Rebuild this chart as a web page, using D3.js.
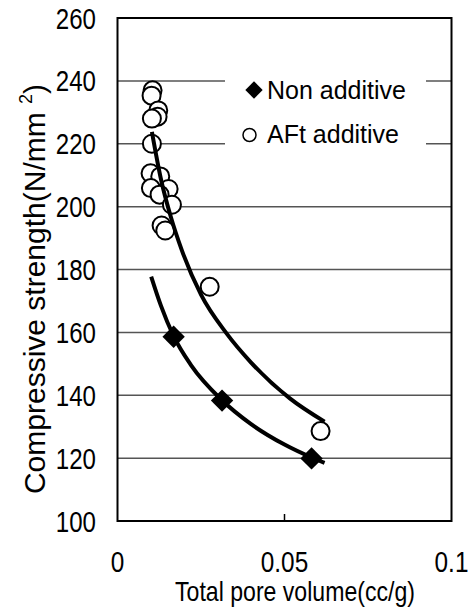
<!DOCTYPE html>
<html>
<head>
<meta charset="utf-8">
<script src="https://cdn.jsdelivr.net/npm/d3@7"></script>
<style>
  html, body { margin: 0; padding: 0; background: #fff; }
  svg { display: block; font-family: Arial, "Liberation Sans", sans-serif; }
</style>
</head>
<body>
<svg id="chart" width="473" height="615"></svg>
<script>
// ---- data ----
const xTickValues = [0, 0.05, 0.1];
const xTickLabels = ["0", "0.05", "0.1"];
const yTickValues = [100, 120, 140, 160, 180, 200, 220, 240, 260];

const seriesNames = ["Non additive", "AFt additive"];

const nonX = [0.0168, 0.0313, 0.0581];
const nonY = [158.6, 138.3, 119.9];

const aftX = [0.0105, 0.0102, 0.0122, 0.0120, 0.0103, 0.0103, 0.0099, 0.0128, 0.0100, 0.0153, 0.0126, 0.0163, 0.0132, 0.0143, 0.0276, 0.0608];
const aftY = [237.0, 235.3, 230.6, 228.6, 228.0, 220.0, 210.6, 209.6, 205.9, 205.6, 203.8, 200.6, 194.0, 192.4, 174.5, 128.6];

// trend lines
const nonFitX = [0.0101, 0.0130, 0.0168, 0.0220, 0.0313, 0.0400, 0.0500, 0.0581, 0.0620];
const nonFitY = [177.7, 168.5, 158.8, 149.6, 138.4, 130.8, 124.3, 120.2, 118.5];

const aftFitX = [0.0103, 0.0130, 0.0160, 0.0193, 0.0250, 0.0327, 0.0400, 0.0516, 0.0620];
const aftFitY = [223.8, 208.8, 196.6, 186.0, 172.0, 159.6, 150.4, 139.0, 131.6];

// ---- layout ----
const svg = d3.select("#chart");
const L = 117.5, R = 451.5, T = 18, B = 521;

const x = d3.scaleLinear().domain([0, 0.1]).range([L, R]);
const y = d3.scaleLinear().domain([100, 260]).range([B, T]);

// gridlines
svg.append("g").selectAll("line").data(yTickValues.filter(v => v > 100 && v < 260)).join("line")
  .attr("x1", L).attr("x2", R)
  .attr("y1", d => y(d)).attr("y2", d => y(d))
  .attr("stroke", "#555").attr("stroke-width", 1.5);

// legend background hides gridlines
svg.append("rect").attr("x", 225).attr("y", 60).attr("width", 201).attr("height", 105).attr("fill", "#fff");

// frame
svg.append("rect").attr("x", L).attr("y", T).attr("width", R - L).attr("height", B - T)
  .attr("fill", "none").attr("stroke", "#000").attr("stroke-width", 2);

// x ticks (inward)
svg.append("g").selectAll("line").data(xTickValues.slice(1, -1)).join("line")
  .attr("x1", d => x(d)).attr("x2", d => x(d)).attr("y1", B).attr("y2", B - 7)
  .attr("stroke", "#000").attr("stroke-width", 1.5);

// y tick labels
svg.append("g").selectAll("text").data(yTickValues).join("text")
  .attr("transform", d => `translate(96,${y(d) + 10.5}) scale(0.83,1)`)
  .attr("text-anchor", "end").attr("font-size", 29).attr("fill", "#000")
  .text(d => d);

// x tick labels
svg.append("g").selectAll("text").data(xTickValues).join("text")
  .attr("transform", d => `translate(${x(d)},572) scale(0.84,1)`)
  .attr("text-anchor", "middle").attr("font-size", 29).attr("fill", "#000")
  .text((d, i) => xTickLabels[i]);

// x axis title
svg.append("text").attr("x", 295).attr("y", 601).attr("text-anchor", "middle")
  .attr("font-size", 28).attr("textLength", 240).attr("lengthAdjust", "spacingAndGlyphs")
  .text("Total pore volume(cc/g)");

// y axis title
const yt = svg.append("text").attr("transform", "translate(45,289) rotate(-90)")
  .attr("text-anchor", "middle").attr("font-size", 30);
yt.append("tspan").text("Compressive strength(N/mm ");
yt.append("tspan").attr("font-size", 18).attr("dy", -13).text("2");
yt.append("tspan").attr("dy", 13).text(")");

// AFt circles
const aftData = aftX.map((v, i) => ({ x: v, y: aftY[i] }));
svg.append("g").selectAll("circle").data(aftData).join("circle")
  .attr("cx", d => x(d.x)).attr("cy", d => y(d.y)).attr("r", 9)
  .attr("fill", "#fff").attr("stroke", "#000").attr("stroke-width", 2);

// trend lines
const line = d3.line().x(d => x(d[0])).y(d => y(d[1])).curve(d3.curveMonotoneX);
svg.append("path").attr("d", line(aftFitX.map((v, i) => [v, aftFitY[i]])))
  .attr("fill", "none").attr("stroke", "#000").attr("stroke-width", 4);
svg.append("path").attr("d", line(nonFitX.map((v, i) => [v, nonFitY[i]])))
  .attr("fill", "none").attr("stroke", "#000").attr("stroke-width", 4);

// non additive diamonds
const nonData = nonX.map((v, i) => ({ x: v, y: nonY[i] }));
svg.append("g").selectAll("path").data(nonData).join("path")
  .attr("transform", d => `translate(${x(d.x)},${y(d.y)}) rotate(45)`)
  .attr("d", d3.symbol().type(d3.symbolSquare).size(250)())
  .attr("fill", "#000");

// legend
const lg = svg.append("g");
lg.append("path").attr("transform", "translate(254,90) rotate(45)")
  .attr("d", d3.symbol().type(d3.symbolSquare).size(150)()).attr("fill", "#000");
lg.append("text").attr("x", 267).attr("y", 99).attr("font-size", 25).text(seriesNames[0]);
lg.append("circle").attr("cx", 249.5).attr("cy", 135).attr("r", 6.5)
  .attr("fill", "#fff").attr("stroke", "#000").attr("stroke-width", 1.5);
lg.append("text").attr("x", 267).attr("y", 143).attr("font-size", 25).text(seriesNames[1]);
</script>
</body>
</html>
